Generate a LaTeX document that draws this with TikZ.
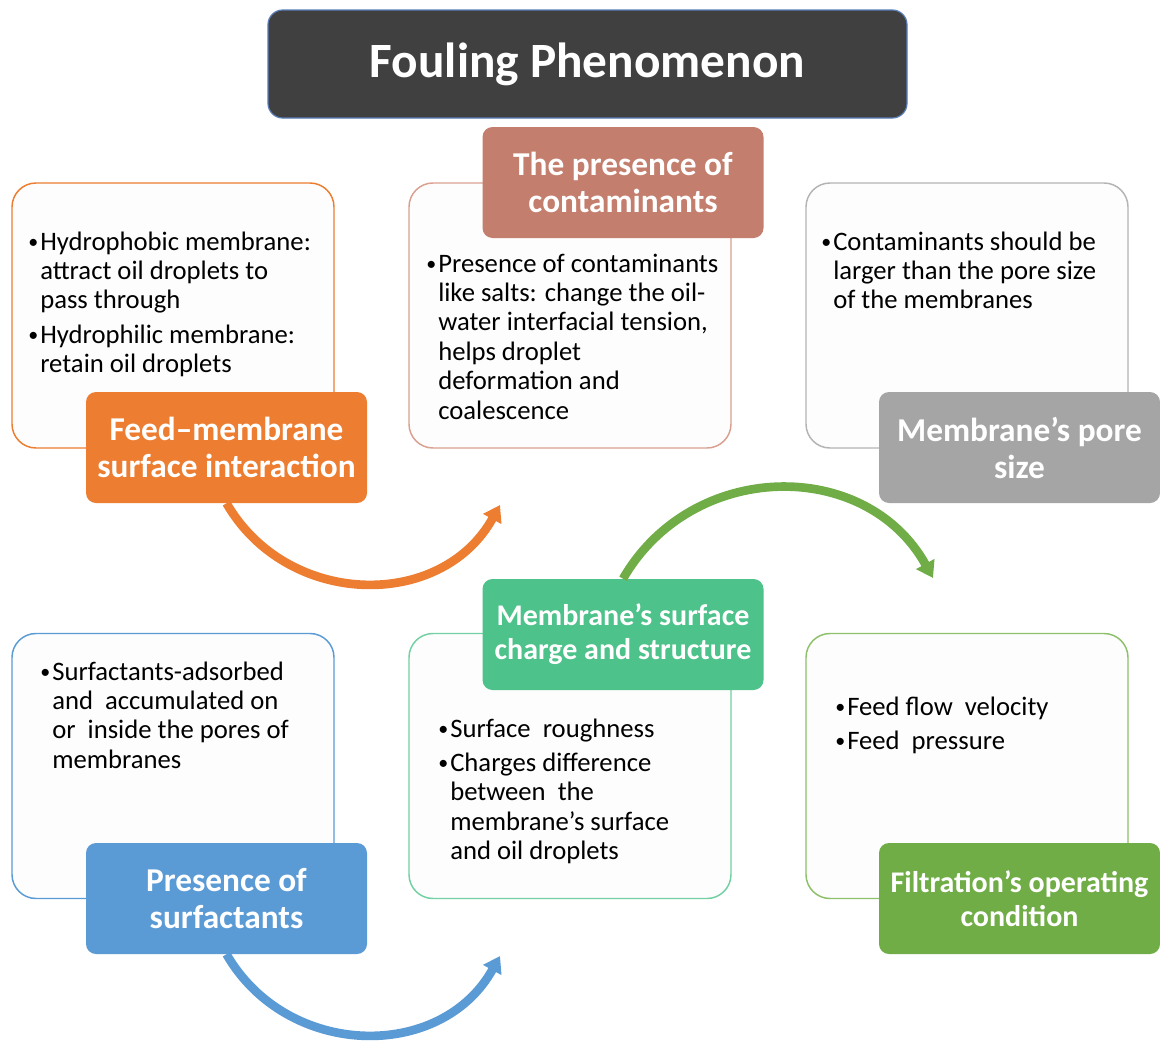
\documentclass[tikz,border=0pt]{standalone}
\usepackage{fontspec}
\setmainfont{Carlito}
\usetikzlibrary{arrows.meta}
\definecolor{cOrange}{HTML}{ED7D31}
\definecolor{cSalmon}{HTML}{C47E6D}
\definecolor{cSalmonL}{HTML}{D9A090}
\definecolor{cGray}{HTML}{A5A5A5}
\definecolor{cGrayL}{HTML}{B4B4B4}
\definecolor{cBlue}{HTML}{5B9BD5}
\definecolor{cTeal}{HTML}{4DC28A}
\definecolor{cTealL}{HTML}{72D0A2}
\definecolor{cGreen}{HTML}{70AD47}
\definecolor{cGreenL}{HTML}{8DC068}
\definecolor{cDark}{HTML}{404040}
\definecolor{cTitleEdge}{HTML}{5A7DB8}
\definecolor{panelfill}{HTML}{FDFDFD}
\newcommand\bl{\makebox[9.75pt][l]{\hspace{0.8pt}\raisebox{0.15ex}{\scalebox{0.75}{•}}}}
\begin{document}
\begin{tikzpicture}[x=0.75pt,y=0.75pt,
  panel/.style={draw, line width=1.1pt, rounded corners=18pt, fill=panelfill,
    minimum width=241.5pt, minimum height=198.75pt, inner sep=0pt},
  head/.style={rounded corners=7.5pt, minimum width=210.75pt, minimum height=83.25pt,
    inner sep=0pt, text=white, align=center, font=\bfseries\fontsize{25}{27.75}\selectfont},
  headsm/.style={head, font=\bfseries\fontsize{22.5}{25.5}\selectfont},
  bodytxt/.style={anchor=base west, inner sep=0pt, font=\fontsize{20}{22.1}\selectfont},
  flow/.style={line width=6.5pt, -{Triangle[length=12pt,width=15pt]}}]
\path[fill=white] (0,0) rectangle (1160,-1042);
\useasboundingbox (0,0) rectangle (1160,-1042);

% title
\node[draw=cTitleEdge, line width=0.9pt, fill=cDark, rounded corners=11pt,
  minimum width=479.25pt, minimum height=81pt, inner sep=0pt, text=white,
  font=\bfseries\fontsize{37}{40}\selectfont] (title) at (587.5,-64) {Fouling Phenomenon};

% panels
\node[panel, draw=cOrange] (p1) at (173,-315.5) {};
\node[panel, draw=cSalmonL] (p2) at (570,-315.5) {};
\node[panel, draw=cGrayL] (p3) at (967,-315.5) {};
\node[panel, draw=cBlue] (p4) at (173,-766) {};
\node[panel, draw=cTealL] (p5) at (570,-766) {};
\node[panel, draw=cGreenL] (p6) at (967,-766) {};

% arrow end points
\coordinate (oEnd) at (500,-505);
\coordinate (gEnd) at (933,-578);
\coordinate (bEnd) at (500,-956);

% headers
\node[head, fill=cOrange] (h1) at (226.5,-447.5) {Feed–membrane\\surface interaction};
\node[head, fill=cSalmon] (h2) at (623,-182.5) {The presence of\\contaminants};
\node[head, fill=cGray] (h3) at (1019.5,-447.5) {Membrane’s pore\\size};
\node[head, fill=cBlue] (h4) at (226.5,-898.5) {Presence of\\surfactants};
\node[headsm, fill=cTeal] (h5) at (623,-634.5) {Membrane’s surface\\charge and structure};
\node[headsm, fill=cGreen] (h6) at (1019.5,-898.5) {Filtration’s operating\\condition};

\draw[flow, cOrange] (h1.south) .. controls +(300:121) and +(241:121) .. (oEnd);
\draw[flow, cGreen] (h5.north) .. controls +(60:138) and +(119:138) .. (gEnd);
\draw[flow, cBlue] (h4.south) .. controls +(300:121) and +(241:121) .. (bEnd);

% body texts
\node[bodytxt] (t1) at (27,-250) {\begin{tabular}[t]{@{}l@{}l@{}}
\bl&Hydrophobic membrane:\\&attract oil droplets to\\&pass through\\[3.75pt]
\bl&Hydrophilic membrane:\\&retain oil droplets\end{tabular}};
\node[bodytxt] (t2) at (425,-272) {\begin{tabular}[t]{@{}l@{}l@{}}
\bl&Presence of contaminants\\&like salts: change the oil-\\&water interfacial tension,\\
&helps droplet\\&deformation and\\&coalescence\end{tabular}};
\node[bodytxt] (t3) at (820,-250) {\begin{tabular}[t]{@{}l@{}l@{}}
\bl&Contaminants should be\\&larger than the pore size\\&of the membranes\end{tabular}};
\node[bodytxt] (t4) at (39,-680) {\begin{tabular}[t]{@{}l@{}l@{}}
\bl&Surfactants-adsorbed\\&and~ accumulated on\\&or~ inside the pores of\\&membranes\end{tabular}};
\node[bodytxt] (t5) at (437,-737) {\begin{tabular}[t]{@{}l@{}l@{}}
\bl&Surface~ roughness\\[3.75pt]
\bl&Charges difference\\&between~ the\\&membrane’s surface\\&and oil droplets\end{tabular}};
\node[bodytxt] (t6) at (834,-715) {\begin{tabular}[t]{@{}l@{}l@{}}
\bl&Feed flow~ velocity\\[3.75pt]
\bl&Feed~ pressure\end{tabular}};
\end{tikzpicture}
\end{document}
